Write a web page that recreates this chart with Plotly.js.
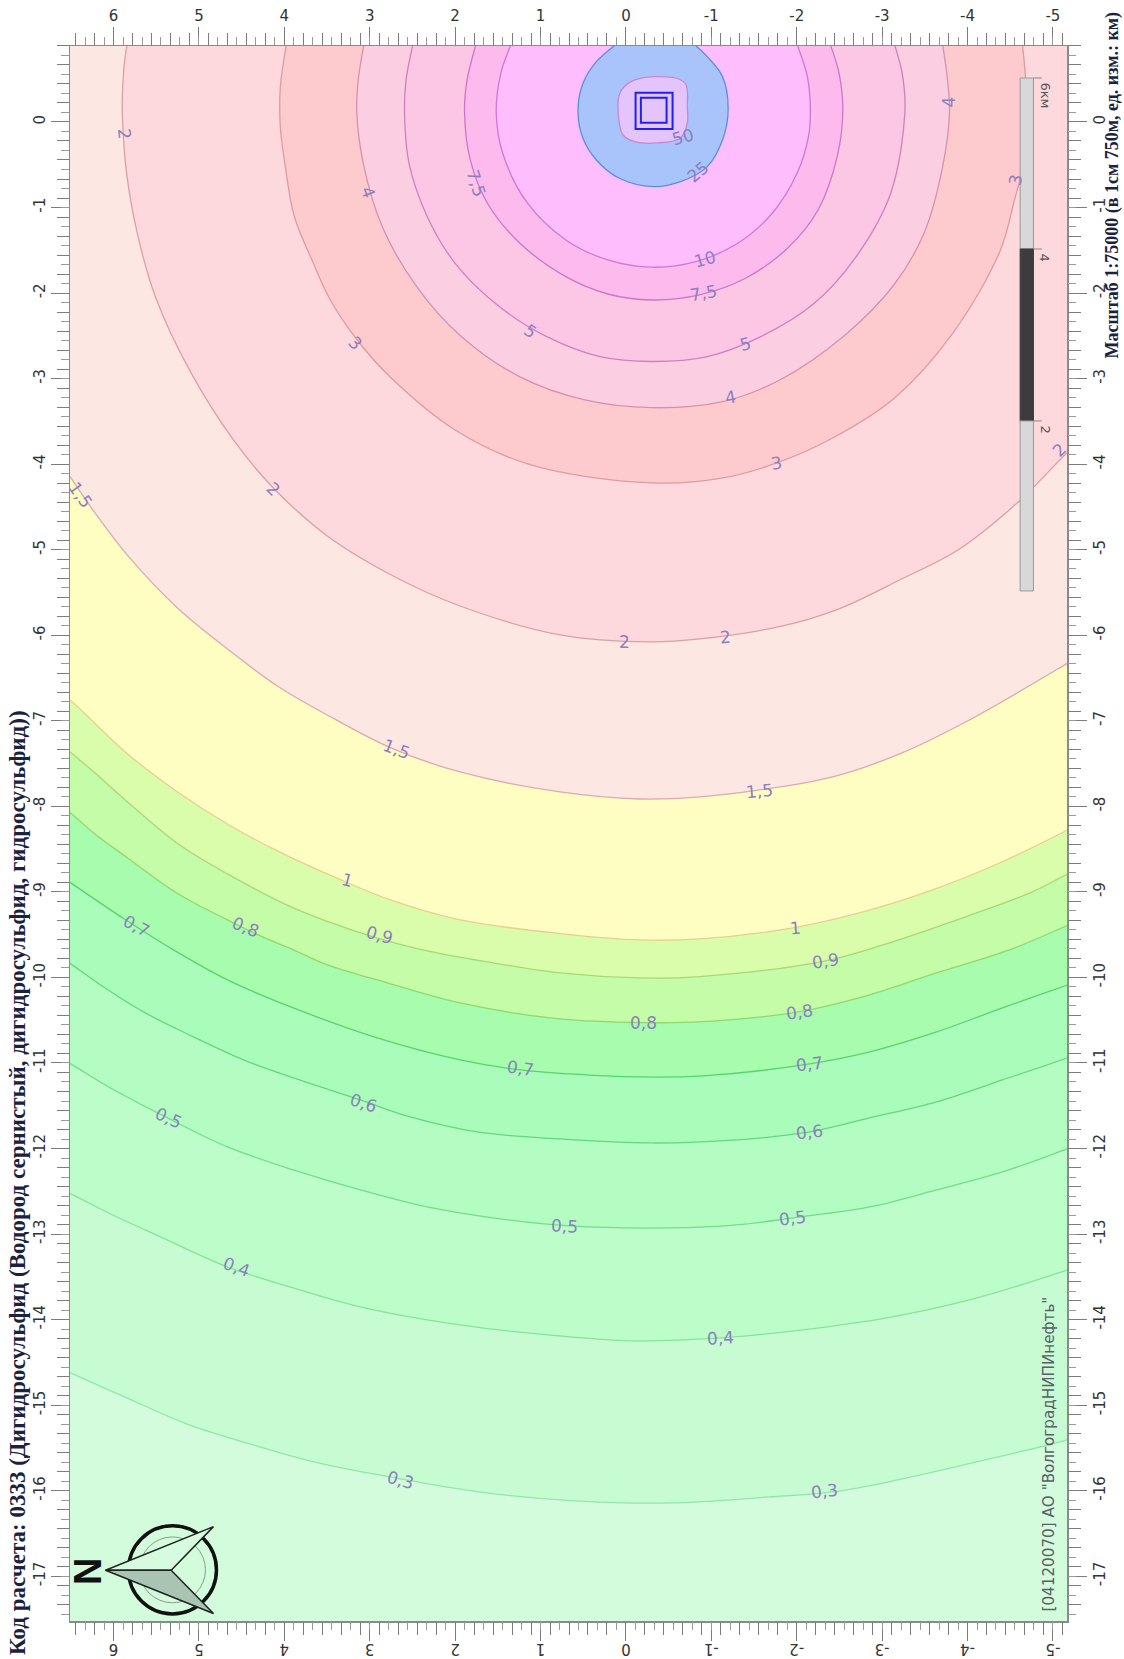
<!DOCTYPE html>
<html><head><meta charset="utf-8">
<script src="https://cdn.plot.ly/plotly-3.0.1.min.js"></script>
<style>html,body{margin:0;padding:0;background:#fff}#chart{width:1124px;height:1659px}</style>
</head><body><div id="chart"></div>
<script>
// Contour lines, km east (x) and north (y) of the source
const x03=[6.737,6.503,5.871,5.111,4.363,3.602,2.702,1.719,.596,-.538,-1.673,-2.421,-3.181,-4.304,-5.193,-5.427];
const y03=[-14.518,-14.623,-14.903,-15.231,-15.465,-15.675,-15.85,-16.014,-16.119,-16.143,-16.073,-16.014,-15.874,-15.617,-15.395,-15.289];
const x04=[6.737,6.503,6.035,5.45,4.667,3.895,3.111,1.942,.655,-.129,-1.099,-2.07,-3.053,-4.023,-5.17,-5.427];
const y04=[-12.437,-12.531,-12.765,-13.033,-13.384,-13.629,-13.851,-14.062,-14.202,-14.249,-14.214,-14.12,-13.98,-13.77,-13.419,-13.326];
const x05=[6.737,6.503,6.035,5.368,4.667,3.895,3.111,2.327,1.556,.655,-.515,-1.298,-1.953,-2.854,-3.637,-4.409,-5.17,-5.427];
const y05=[-10.883,-11.011,-11.292,-11.642,-11.981,-12.25,-12.484,-12.683,-12.811,-12.905,-12.928,-12.893,-12.811,-12.683,-12.484,-12.273,-12.004,-11.911];
const x06=[6.737,6.503,6.152,5.649,5.064,4.48,3.895,3.111,2.526,1.743,.772,-.316,-1.298,-2.152,-2.854,-3.637,-4.409,-5.17,-5.427];
const y06=[-9.702,-9.842,-10.088,-10.403,-10.695,-10.964,-11.175,-11.432,-11.631,-11.806,-11.888,-11.935,-11.899,-11.806,-11.642,-11.455,-11.198,-10.941,-10.847];
const x07=[6.737,6.503,5.883,5.298,4.667,3.895,2.912,1.942,1.24,.655,-.129,-.901,-2.152,-2.854,-3.637,-4.409,-5.17,-5.427];
const y07=[-8.743,-8.895,-9.311,-9.678,-10.029,-10.356,-10.707,-10.964,-11.081,-11.128,-11.163,-11.151,-11.011,-10.871,-10.637,-10.356,-10.088,-9.994];
const x08=[6.737,6.503,6.234,5.836,5.251,4.667,4.281,3.895,3.497,2.912,1.942,.772,-.199,-.901,-2.035,-2.854,-3.637,-4.491,-5.158,-5.427];
const y08=[-7.902,-8.077,-8.311,-8.603,-9.019,-9.328,-9.515,-9.678,-9.854,-10.029,-10.298,-10.485,-10.528,-10.517,-10.4,-10.204,-9.947,-9.678,-9.398,-9.281];
const x09=[6.737,6.503,6.234,5.836,5.251,4.667,3.895,2.994,2.327,1.556,.772,-.164,-.865,-2.351,-3.205,-3.988,-4.76,-5.158,-5.427];
const y09=[-7.189,-7.37,-7.596,-7.949,-8.435,-8.79,-9.187,-9.515,-9.69,-9.83,-9.947,-10.006,-9.99,-9.803,-9.557,-9.288,-9.0,-8.797,-8.662];
const x10=[6.737,6.503,5.836,5.251,4.667,4.082,3.31,2.725,1.942,.772,-.164,-.865,-1.953,-2.819,-3.591,-4.374,-5.158,-5.427];
const y10=[-6.581,-6.764,-7.387,-7.832,-8.206,-8.521,-8.872,-9.106,-9.328,-9.487,-9.562,-9.55,-9.421,-9.222,-8.977,-8.662,-8.282,-8.136];
const x15=[6.678,6.503,6.234,5.836,5.251,4.667,4.082,3.497,2.725,1.942,.772,-.164,-.865,-1.567,-2.421,-3.205,-3.988,-5.158,-5.427];
const y15=[-3.892,-4.155,-4.547,-5.067,-5.681,-6.16,-6.593,-6.932,-7.329,-7.598,-7.832,-7.914,-7.89,-7.808,-7.656,-7.387,-7.008,-6.335,-6.172];
const x20=[5.84,5.898,5.887,5.848,5.723,5.509,5.099,4.596,4.129,3.497,2.725,1.942,.772,-.281,-.865,-1.836,-2.503,-3.205,-3.906,-4.608,-5.158,-5.368];
const y20=[.912,.257,-.129,-.596,-1.297,-2.046,-2.922,-3.717,-4.278,-4.839,-5.307,-5.658,-5.996,-6.078,-6.043,-5.891,-5.688,-5.354,-4.991,-4.43,-3.876,-3.694];
const x30=[3.977,4.047,4.047,3.988,3.883,3.661,3.468,3.154,2.76,2.0,1.111,-.304,-1.135,-1.766,-2.421,-3.146,-3.813,-4.374,-4.55,-4.643,-4.684,-4.678,-4.643];
const y30=[.912,.409,-.058,-.526,-1.105,-1.648,-2.069,-2.54,-2.981,-3.6,-4.009,-4.22,-4.161,-3.986,-3.694,-3.226,-2.489,-1.525,-.912,-.532,.14,.526,.912];
const x40=[3.068,3.135,3.152,3.076,2.853,2.45,1.942,1.241,.481,-.303,-1.131,-1.801,-2.567,-3.146,-3.497,-3.708,-3.789,-3.766,-3.708];
const y40=[.912,.491,.12,-.483,-1.224,-1.925,-2.496,-2.98,-3.249,-3.34,-3.27,-3.016,-2.489,-1.894,-1.286,-.526,.105,.491,.912];
const x50=[2.495,2.575,2.593,2.538,2.333,2.005,1.491,.927,.302,-.303,-.952,-1.579,-2.206,-2.697,-3.101,-3.267,-3.235,-3.145];
const y50=[.912,.491,.12,-.491,-1.093,-1.646,-2.152,-2.509,-2.743,-2.8,-2.743,-2.509,-2.119,-1.574,-.833,.12,.569,.912];
const x75=[1.756,1.86,1.89,1.823,1.622,1.241,.704,.212,-.303,-.862,-1.4,-1.892,-2.25,-2.474,-2.54,-2.496,-2.393];
const y75=[.912,.491,.12,-.444,-.95,-1.418,-1.808,-2.011,-2.081,-2.022,-1.827,-1.476,-1.029,-.406,.14,.569,.912];
const x100=[1.345,1.465,1.519,1.443,1.152,.704,.212,-.303,-.818,-1.31,-1.713,-2.004,-2.138,-2.16,-2.125,-2.004];
const y100=[.912,.569,.12,-.366,-.95,-1.379,-1.613,-1.698,-1.633,-1.418,-1.067,-.6,-.172,.14,.53,.912];
const x250=[.113,.346,.503,.561,.503,.346,.077,-.325,-.639,-.952,-1.131,-1.197,-1.131,-.952,-.795];
const y250=[.912,.705,.452,.12,-.191,-.444,-.658,-.756,-.698,-.522,-.21,.14,.53,.763,.912];
const x500=[-.325,-.594,-.705,-.719,-.719,-.639,-.37,-.102,.033,.077,.07,-.058,-.19,-.325];
const y500=[.53,.511,.432,.179,-.012,-.187,-.245,-.23,-.152,-.015,.339,.471,.514,.53];

const levelNames=['0,3','0,4','0,5','0,6','0,7','0,8','0,9','1','1,5','2','3','4','5','7,5','10','25','50'];
const levelX=[x03,x04,x05,x06,x07,x08,x09,x10,x15,x20,x30,x40,x50,x75,x100,x250,x500];
const levelY=[y03,y04,y05,y06,y07,y08,y09,y10,y15,y20,y30,y40,y50,y75,y100,y250,y500];
const bandFill=['#c7fcd3','#bdfdc9','#b3fcc2','#aafcba','#a7fcad','#c4fca8','#dafdab','#fefdc2','#fde7e2','#fdd8dc','#fdcace','#fbcfe1','#fcc6e5','#fdbaec','#febdfd','#a9c4fb','#e3c4fb'];
const lineColor=['#8fe8a8','#84e59a','#70df8a','#62d97c','#56d56c','#92d86e','#a8d87a','#e8cf90','#dcaab0','#dc9fa8','#dc9ca4','#d492b0','#d27fc0','#cc76cc','#cc78dc','#5b8fdc','#c888d0'];
const backgroundFill='#d3fcdd';

// Contour labels as printed on the map
const labelText=['2','4','7,5','5','3','50','25','10','7,5','5','4','3','4','3','2','2','2','2','1,5','1,5','1,5','1','1','0,9','0,9','0,8','0,8','0,8','0,7','0,7','0,7','0,6','0,6','0,5','0,5','0,5','0,4','0,4','0,3','0,3'];
const labelX=[5.871,3.018,1.754,1.123,3.17,-.667,-.842,-.93,-.908,-1.4,-1.228,-1.766,-3.778,-4.561,-5.076,-1.17,.018,4.129,6.386,2.69,-1.567,3.263,-1.988,2.889,-2.339,4.456,-.211,-2.035,5.731,1.24,-2.152,3.076,-2.152,5.357,.725,-1.953,4.561,-1.111,2.643,-2.327];
const labelY=[-.14,-.818,-.713,-2.443,-2.583,-.175,-.584,-1.601,-1.999,-2.595,-3.214,-3.986,.234,-.678,-3.834,-6.02,-6.078,-4.29,-4.36,-7.329,-7.82,-8.86,-9.421,-9.503,-9.807,-9.415,-10.532,-10.403,-9.398,-11.058,-11.011,-11.467,-11.806,-11.642,-12.905,-12.811,-13.384,-14.214,-15.874,-16.002];
const labelAngle=[85,70,72,35,45,-15,-40,-15,-10,-15,-10,-10,-90,-80,-45,-5,0,45,55,20,-5,15,-5,15,-8,22,0,-8,28,8,-7,18,-7,25,3,-7,20,-3,15,-6];

const xTickVals=[6,5,4,3,2,1,0,-1,-2,-3,-4,-5];
const xTickText=['6','5','4','3','2','1','0','-1','-2','-3','-4','-5'];
const yTickVals=[0,-1,-2,-3,-4,-5,-6,-7,-8,-9,-10,-11,-12,-13,-14,-15,-16,-17];
const yTickText=['0','-1','-2','-3','-4','-5','-6','-7','-8','-9','-10','-11','-12','-13','-14','-15','-16','-17'];
const xRange=[6.51,-5.165], yRange=[-17.523,.888];

const leftTitle='Код расчета: 0333 (Дигидросульфид (Водород сернистый, дигидросульфид, гидросульфид))';
const rightTitle='Масштаб 1:75000 (в 1см 750м, ед. изм.: км)';
const stamp='[04120070] АО "ВолгоградНИПИнефть"';

// Each filled region is closed outside the visible frame; arcs cut by the top edge are carried on past it.
const traces=levelNames.map((name,i)=>{
  let xs=levelX[i].slice(), ys=levelY[i].slice();
  const n=xs.length;
  if(name==='50'){ /* already closed */ }
  else if(name==='2' || xs[0]>6){ xs.push(xs[n-1]-.3,xs[0]-.3,xs[0]); ys.push(1.8,1.8,ys[0]); }
  else {
    const ex=2*xs[n-1]-xs[n-2], ey=2*ys[n-1]-ys[n-2], sx=2*xs[0]-xs[1], sy=2*ys[0]-ys[1];
    const mid=(xs[0]+xs[n-1])/2, top=.912+(xs[0]-xs[n-1])/2;
    xs.push(ex,mid,sx,xs[0]); ys.push(ey,top,sy,ys[0]);
  }
  return {type:'scatter',mode:'lines',x:xs,y:ys,fill:'toself',fillcolor:bandFill[i],name:name,
    line:{color:lineColor[i],width:1.3,shape:'spline',smoothing:1},hoverinfo:'skip',showlegend:false};
});
[['x2','y2'],['x3','y3'],['x4','y4']].forEach(p=>traces.push({type:'scatter',mode:'lines',xaxis:p[0],yaxis:p[1],
  x:xRange,y:yRange,line:{width:0,color:'rgba(0,0,0,0)'},hoverinfo:'skip',showlegend:false}));

const tickFont={family:'"DejaVu Sans",sans-serif',size:15,color:'#333'};
const tc='#7c7c7c';
const labelAxis=(rng,vals,text,extra)=>Object.assign({range:rng,autorange:false,tickmode:'array',tickvals:vals,ticktext:text,ticks:'outside',
  ticklen:18,tickwidth:1,tickcolor:tc,tickfont:tickFont,showgrid:false,zeroline:false,showline:true,linecolor:'#8a8a8a',linewidth:1.5},extra);
const minorAxis=(rng,extra)=>Object.assign({range:rng,autorange:false,tickmode:'linear',tick0:0,dtick:2/9,ticks:'outside',ticklen:12.5,tickwidth:1,tickcolor:tc,
  showticklabels:false,showgrid:false,zeroline:false,showline:false,
  minor:{tickmode:'linear',tick0:0,dtick:1/9,ticks:'outside',ticklen:8,tickwidth:1,tickcolor:'#9a9a9a',showgrid:false}},extra);

const ann=labelText.map((t,i)=>({x:labelX[i],y:labelY[i],xref:'x',yref:'y',xanchor:'center',yanchor:'middle',text:t,textangle:labelAngle[i],showarrow:false,
  font:{family:'"DejaVu Sans",sans-serif',size:17,color:'#8b80bd'}}));
const X=px=>(px-70)/997.5, Y=py=>(1621-py)/1575;
const pageText=(px,py,text,angle,family,size,color)=>({xref:'paper',yref:'paper',x:X(px),y:Y(py),xanchor:'center',yanchor:'middle',text,textangle:angle,showarrow:false,font:{family,size,color}});
const serif='"Liberation Serif",serif', sans='"DejaVu Sans",sans-serif';
ann.push(
 pageText(18,1183,'<b>'+leftTitle+'</b>',-90,serif,23,'#1a2240'),
 pageText(1113,185,'<b>'+rightTitle+'</b>',-90,serif,18,'#1a2240'),
 pageText(1049,1454,stamp,-90,sans,15.2,'#5c5c6a'),
 pageText(1045,95,'6км',90,sans,13,'#555'),
 pageText(1045,257,'4',90,sans,13,'#555'),
 pageText(1045,429,'2',90,sans,13,'#555'),
 pageText(88,1571,'<b>N</b>',-90,'"Liberation Sans",sans-serif',38,'#111')
);

const sh=(type,x0,x1,y0,y1,fill,lc,lw)=>({type,xref:'x',yref:'y',x0,x1,y0,y1,fillcolor:fill,line:{color:lc,width:lw}});
const shapes=[
 sh('rect',-4.616,-4.772,.514,-1.485,'#d8d8d8','#9a9a9a',1),
 sh('rect',-4.616,-4.772,-1.485,-3.495,'#3c3c3c','#3c3c3c',1),
 sh('rect',-4.616,-4.772,-3.495,-5.482,'#d8d8d8','#9a9a9a',1),
 sh('line',-4.772,-4.87,.514,.514,null,'#888',1),
 sh('line',-4.772,-4.87,-1.485,-1.485,null,'#888',1),
 sh('line',-4.772,-4.87,-3.495,-3.495,null,'#888',1),
 sh('rect',-.113,-.546,.342,-.082,'rgba(0,0,0,0)','#2020f0',2),
 sh('rect',-.175,-.476,.284,-.008,'rgba(0,0,0,0)','#2020f0',2),
 sh('circle',5.825,4.795,-16.411,-17.44,'rgba(0,0,0,0)','#111',3.5),
 sh('circle',5.696,4.924,-16.54,-17.31,'rgba(0,0,0,0)','#8d9a90',1),
 {type:'path',xref:'x',yref:'y',path:'M 6.094 -16.93 L 4.83 -16.42 L 5.325 -16.93 Z',fillcolor:'#d6fbdf',line:{color:'#222',width:1.5}},
 {type:'path',xref:'x',yref:'y',path:'M 6.094 -16.93 L 4.83 -17.436 L 5.325 -16.93 Z',fillcolor:'#a9c4b2',line:{color:'#222',width:1.5}}
];

const layout={width:1124,height:1659,autosize:false,margin:{l:70,r:56.5,t:46,b:38,pad:0},paper_bgcolor:'#fff',plot_bgcolor:backgroundFill,showlegend:false,
 xaxis:labelAxis(xRange,xTickVals,xTickText,{side:'bottom',tickangle:180,anchor:'y'}),
 yaxis:labelAxis(yRange,yTickVals,yTickText,{side:'left',tickangle:-90,anchor:'x'}),
 xaxis2:labelAxis(xRange,xTickVals,xTickText,{side:'top',overlaying:'x',anchor:'y2',tickangle:0}),
 yaxis2:labelAxis(yRange,yTickVals,yTickText,{side:'right',overlaying:'y',anchor:'x2',tickangle:-90}),
 xaxis3:minorAxis(xRange,{side:'bottom',overlaying:'x',anchor:'y3'}),
 yaxis3:minorAxis(yRange,{side:'left',overlaying:'y',anchor:'x3'}),
 xaxis4:minorAxis(xRange,{side:'top',overlaying:'x',anchor:'y4'}),
 yaxis4:minorAxis(yRange,{side:'right',overlaying:'y',anchor:'x4'}),
 annotations:ann,shapes:shapes};
Plotly.newPlot('chart',traces,layout,{displayModeBar:false,staticPlot:true});
</script></body></html>
